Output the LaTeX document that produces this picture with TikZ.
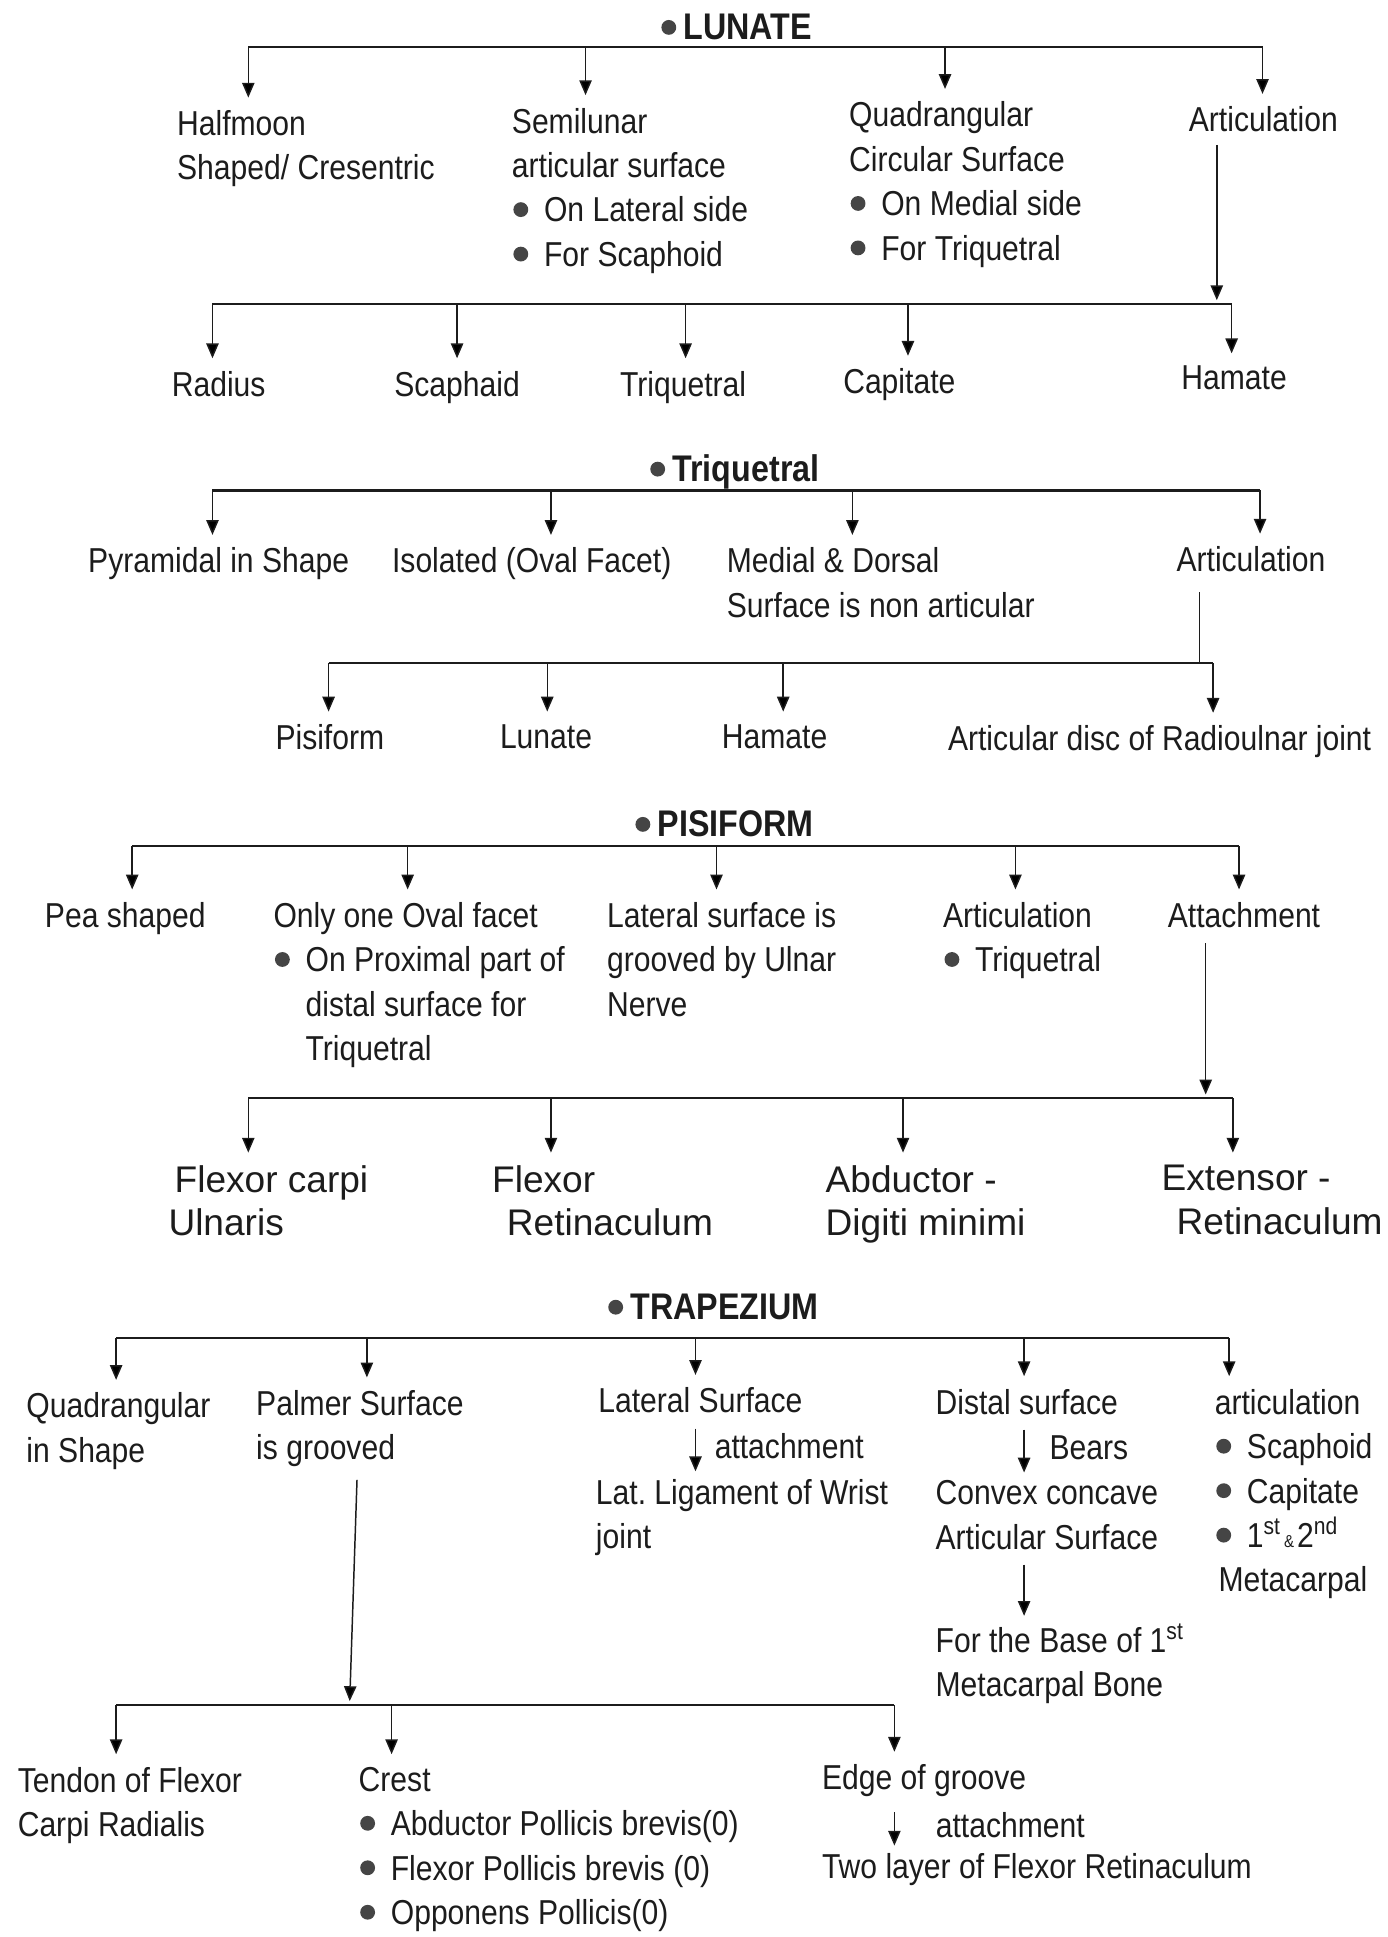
\documentclass[tikz,border=0pt]{standalone}
\usepackage{fontspec}
\setmainfont{Liberation Sans}[FakeStretch=0.87]
\newfontfamily\plainsans{Liberation Sans}
\usepackage{tikz}
\usetikzlibrary{arrows.meta, calc}
\definecolor{inkgray}{HTML}{1C1C1C}
\definecolor{dotgray}{HTML}{454545}
\newcommand{\dotmark}{\tikz[baseline=-5pt]\fill[dotgray] (3pt,0pt) circle (3pt);}
\newcommand{\bul}{\makebox[13pt][l]{\hspace*{0.6pt}\dotmark}}
\newcommand{\hbul}{\makebox[9pt][l]{\dotmark}}
\newcommand{\ind}{\hspace*{13pt}}
\tikzstyle{entry} = [anchor=north west, inner sep=0pt, align=left, text=inkgray,
  font=\fontsize{14}{18}\selectfont]
\tikzstyle{leaf} = [entry, anchor=north]
\tikzstyle{muscle} = [entry, font=\plainsans\fontsize{15}{17.5}\selectfont]
\tikzstyle{head} = [anchor=west, inner sep=0pt, text=inkgray,
  font=\fontsize{15}{18}\selectfont\bfseries]
\tikzstyle{bar} = [line width=0.9pt, draw=inkgray]
\tikzstyle{arrow} = [-{Triangle[length=6pt,width=5pt]}, line width=0.6pt, draw=inkgray]
\tikzstyle{drop} = [arrow, shorten >=5pt]
\tikzstyle{hop} = [arrow, shorten <=6pt, shorten >=3pt]

\begin{document}
\begin{tikzpicture}[x=0.5pt, y=-0.5pt]
  \useasboundingbox[fill=white] (0,0) rectangle (1123,1568);

  % Lunate
  \node[head] (lunH) at (535,22) {\hbul LUNATE};
  \node[entry] (half) at (143,89) {Halfmoon\\Shaped/ Cresentric};
  \node[entry] (semi) at (414,87) {Semilunar\\articular surface\\\bul On Lateral side\\\bul For Scaphoid};
  \node[entry] (quad) at (687,82) {Quadrangular\\Circular Surface\\\bul On Medial side\\\bul For Triquetral};
  \node[entry] (artL) at (962,86) {Articulation};

  \node[leaf] (radius) at (177,300) {Radius};
  \node[leaf] (scaph) at (370,300) {Scaphaid};
  \node[leaf] (triqL) at (553,300) {Triquetral};
  \node[leaf] (capit) at (728,298) {Capitate};
  \node[leaf] (hamL) at (999,296) {Hamate};

  \coordinate (l1) at (201,38);
  \coordinate (l2) at (474,38);
  \coordinate (l3) at (765,38);
  \coordinate (l4) at (1022,38);
  \draw[bar] (l1) -- (l4);
  \draw[drop] (l1) -- (l1 |- half.north);
  \draw[drop] (l2) -- (l2 |- semi.north);
  \draw[drop] (l3) -- (l3 |- quad.north);
  \draw[drop] (l4) -- (l4 |- artL.north);

  \coordinate (m0) at (985,246);
  \coordinate (m1) at (172,246);
  \coordinate (m2) at (370,246);
  \coordinate (m3) at (555,246);
  \coordinate (m4) at (735,246);
  \coordinate (m5) at (997,246);
  \draw[arrow, shorten <=5pt, shorten >=1.5pt] (m0 |- artL.south) -- (m0);
  \draw[bar] (m1) -- (m5);
  \draw[drop] (m1) -- (m1 |- radius.north);
  \draw[drop] (m2) -- (m2 |- scaph.north);
  \draw[drop] (m3) -- (m3 |- triqL.north);
  \draw[drop] (m4) -- (m4 |- capit.north);
  \draw[drop] (m5) -- (m5 |- hamL.north);

  % Triquetral
  \node[head] (trqH) at (526,382) {\hbul Triquetral};
  \node[entry] (pyr) at (71,443) {Pyramidal in Shape};
  \node[entry] (iso) at (317,443) {Isolated (Oval Facet)};
  \node[entry] (med) at (588,443) {Medial \& Dorsal\\Surface is non articular};
  \node[entry] (artT) at (952,442) {Articulation};

  \node[leaf] (pisi) at (267,586) {Pisiform};
  \node[leaf] (lunT) at (442,586) {Lunate};
  \node[leaf] (hamT) at (627,586) {Hamate};
  \node[entry] (disc) at (767,587) {Articular disc of Radioulnar joint};

  \coordinate (t1) at (172,397);
  \coordinate (t2) at (446,397);
  \coordinate (t3) at (690,397);
  \coordinate (t4) at (1020,397);
  \draw[bar] (t1) -- (t4);
  \draw[drop] (t1) -- (t1 |- pyr.north);
  \draw[drop] (t2) -- (t2 |- iso.north);
  \draw[drop] (t3) -- (t3 |- med.north);
  \draw[drop] (t4) -- (t4 |- artT.north);

  \coordinate (u0) at (971,537);
  \coordinate (u1) at (266,537);
  \coordinate (u2) at (443,537);
  \coordinate (u3) at (634,537);
  \coordinate (u4) at (982,537);
  \draw[line width=0.6pt, draw=inkgray, shorten <=8pt] (u0 |- artT.south) -- (u0);
  \draw[bar] (u1) -- (u4);
  \draw[drop] (u1) -- (u1 |- pisi.north);
  \draw[drop] (u2) -- (u2 |- lunT.north);
  \draw[drop] (u3) -- (u3 |- hamT.north);
  \draw[drop] (u4) -- (u4 |- disc.north);

  % Pisiform
  \node[head] (pisH) at (514,667) {\hbul PISIFORM};
  \node[entry] (pea) at (36,730) {Pea shaped};
  \node[entry] (only) at (221,730) {Only one Oval facet\\\bul On Proximal part of\\\ind distal surface for\\\ind Triquetral};
  \node[entry] (latP) at (491,730) {Lateral surface is\\grooved by Ulnar\\Nerve};
  \node[entry] (artP) at (763,730) {Articulation\\\bul Triquetral};
  \node[entry] (att) at (945,730) {Attachment};

  \node[muscle] (fcu) at (136,943) {\hspace*{2.5pt}Flexor carpi\\Ulnaris};
  \node[muscle] (fr) at (398,943) {Flexor\\\hspace*{6pt}Retinaculum};
  \node[muscle] (abd) at (668,943) {Abductor -\\Digiti minimi};
  \node[muscle] (ext) at (940,943) {Extensor -\\\hspace*{6pt}Retinaculum};

  \coordinate (p1) at (107,685);
  \coordinate (p2) at (330,685);
  \coordinate (p3) at (580,685);
  \coordinate (p4) at (822,685);
  \coordinate (p5) at (1003,685);
  \draw[bar] (p1) -- (p5);
  \draw[drop] (p1) -- (p1 |- pea.north);
  \draw[drop] (p2) -- (p2 |- only.north);
  \draw[drop] (p3) -- (p3 |- latP.north);
  \draw[drop] (p4) -- (p4 |- artP.north);
  \draw[drop] (p5) -- (p5 |- att.north);

  \coordinate (q0) at (976,889);
  \coordinate (q1) at (201,889);
  \coordinate (q2) at (446,889);
  \coordinate (q3) at (731,889);
  \coordinate (q4) at (998,889);
  \draw[arrow, shorten <=6pt, shorten >=1.5pt] (q0 |- att.south) -- (q0);
  \draw[bar] (q1) -- (q4);
  \draw[drop] (q1) -- (q1 |- fcu.north);
  \draw[drop] (q2) -- (q2 |- fr.north);
  \draw[drop] (q3) -- (q3 |- abd.north);
  \draw[drop] (q4) -- (q4 |- ext.north);

  % Trapezium
  \node[head] (trpH) at (492,1058) {\hbul TRAPEZIUM};
  \node[entry] (quadT) at (21,1127) {Quadrangular\\in Shape};
  \node[entry] (palm) at (207,1125) {Palmer Surface\\is grooved};
  \node[entry] (latS) at (484,1123) {Lateral Surface};
  \node[entry] (latL) at (482,1197) {Lat.\ Ligament of Wrist\\joint};
  \node[entry] (dist) at (757,1124) {Distal surface};
  \node[entry] (conv) at (757,1198) {Convex concave\\Articular Surface};
  \node[entry] (base) at (757,1314) {For the Base of 1\textsuperscript{st}\\Metacarpal Bone};
  \node[entry] (artZ) at (983,1124) {articulation\\\bul Scaphoid\\\bul Capitate\\\bul 1\textsuperscript{st}{\scriptsize\,\&\,}2\textsuperscript{nd}\\\hspace*{1.5pt}Metacarpal};

  \node[entry] (tendon) at (14,1430) {Tendon of Flexor\\Carpi Radialis};
  \node[entry] (crest) at (290,1430) {Crest\\\bul Abductor Pollicis brevis(0)\\\bul Flexor Pollicis brevis (0)\\\bul Opponens Pollicis(0)};
  \node[entry] (edge) at (665,1428) {Edge of groove};
  \node[entry] (two) at (665,1500) {Two layer of Flexor Retinaculum};

  \coordinate (z1) at (94,1083);
  \coordinate (z2) at (297,1083);
  \coordinate (z3) at (563,1083);
  \coordinate (z4) at (829,1083);
  \coordinate (z5) at (995,1083);
  \draw[bar] (z1) -- (z5);
  \draw[drop] (z1) -- (z1 |- quadT.north);
  \draw[drop] (z2) -- (z2 |- palm.north);
  \draw[drop] (z3) -- (z3 |- latS.north);
  \draw[drop] (z4) -- (z4 |- dist.north);
  \draw[drop] (z5) -- (z5 |- artZ.north);

  \draw[hop] (z3 |- latS.south) -- node[entry, anchor=west, xshift=7.5pt] {attachment} (z3 |- latL.north);
  \draw[hop] (z4 |- dist.south) -- node[entry, anchor=west, xshift=10pt] {Bears} (z4 |- conv.north);
  \draw[hop] (z4 |- conv.south) -- (z4 |- base.north);

  \coordinate (r0) at (283,1380);
  \coordinate (r1) at (94,1380);
  \coordinate (r2) at (317,1380);
  \coordinate (r3) at (724,1380);
  \draw[arrow, shorten >=1.5pt] ($(r0 |- palm.south)+(6,10)$) -- (r0);
  \draw[bar] (r1) -- (r3);
  \draw[drop] (r1) -- (r1 |- tendon.north);
  \draw[drop] (r2) -- (r2 |- crest.north);
  \draw[drop] (r3) -- (r3 |- edge.north);
  \draw[hop] (r3 |- edge.south) -- node[entry, anchor=west, xshift=16.5pt] {attachment} (r3 |- two.north);
\end{tikzpicture}
\end{document}
